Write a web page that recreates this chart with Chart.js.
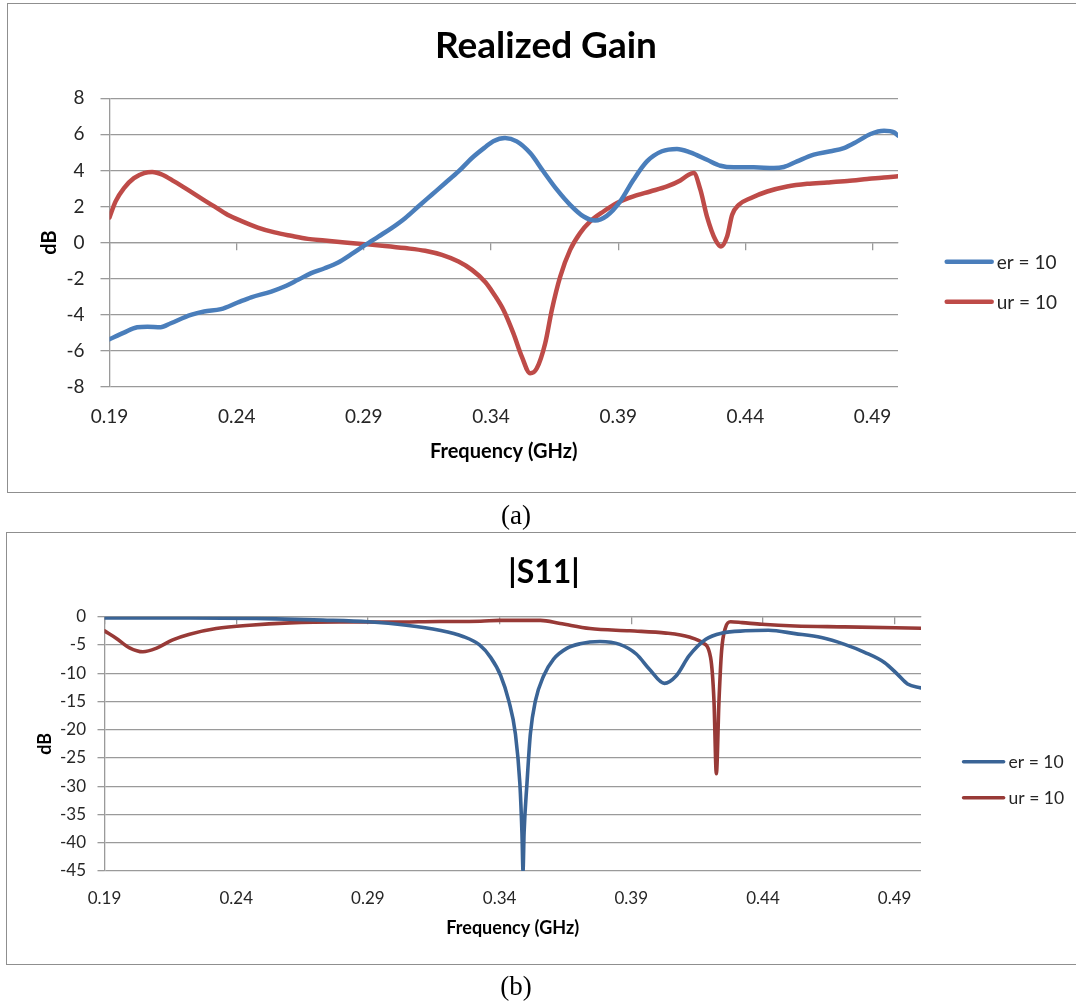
<!DOCTYPE html>
<html>
<head>
<meta charset="utf-8">
<title>Realized Gain and |S11|</title>
<script src="https://cdn.jsdelivr.net/npm/chart.js@4.4.1/dist/chart.umd.min.js"></script>
<style>
  html, body { margin: 0; padding: 0; background: #ffffff; }
  body { width: 1076px; height: 1003px; position: relative; overflow: hidden; }
  .frame { position: absolute; border: 1.5px solid #8f8f8f; box-sizing: border-box; }
  #frameA { left: 7px; top: 3px; width: 1080px; height: 490px; }
  #frameB { left: 6px; top: 532px; width: 1080px; height: 433px; }
  canvas { position: absolute; }
  #gainCanvas { left: 16px; top: 0px; }
  #s11Canvas { left: 12px; top: 520px; }
  .caption { position: absolute; width: 80px; text-align: center; line-height: 30px;
             font-family: "Liberation Serif", "Times New Roman", serif; font-size: 27px; color: #000; }
  #capA { left: 476px; top: 500px; }
  #capB { left: 476px; top: 971px; }
</style>
</head>
<body>
<div class="frame" id="frameA"></div>
<div class="frame" id="frameB"></div>
<canvas id="gainCanvas" width="1060" height="500"></canvas>
<canvas id="s11Canvas" width="1064" height="460"></canvas>
<div class="caption" id="capA">(a)</div>
<div class="caption" id="capB">(b)</div>

<script>
// ---- Realized gain (dB) versus frequency (GHz) ----
const gainFreqEr = [0.19, 0.1957, 0.2009, 0.2049, 0.2101, 0.2141, 0.222, 0.2272, 0.2338, 0.2404,
  0.2457, 0.2536, 0.2588, 0.2641, 0.2693, 0.2746, 0.2799, 0.2851, 0.2904, 0.2957,
  0.3009, 0.3062, 0.3114, 0.3167, 0.322, 0.3272, 0.3325, 0.3378, 0.3409, 0.3455,
  0.3501, 0.3554, 0.3606, 0.3659, 0.3711, 0.3764, 0.3809, 0.3855, 0.3908, 0.396,
  0.4013, 0.4072, 0.4131, 0.4183, 0.4249, 0.4302, 0.4354, 0.4433, 0.4512, 0.4551,
  0.4603, 0.4669, 0.4735, 0.4787, 0.484, 0.4892, 0.4945, 0.4984, 0.50];
const gainEr = [-5.37, -5.0, -4.70, -4.67, -4.70, -4.48, -4.02, -3.83, -3.70, -3.33,
  -3.04, -2.72, -2.44, -2.07, -1.70, -1.43, -1.11, -0.65, -0.15, 0.33,
  0.80, 1.35, 2.0, 2.65, 3.30, 3.94, 4.69, 5.30, 5.62, 5.80,
  5.61, 4.96, 3.94, 2.93, 2.09, 1.44, 1.22, 1.48, 2.28, 3.48,
  4.50, 5.06, 5.19, 5.0, 4.59, 4.26, 4.17, 4.17, 4.13, 4.19,
  4.5, 4.87, 5.06, 5.24, 5.61, 6.02, 6.20, 6.11, 5.93];

const gainFreqUr = [0.19, 0.1924, 0.1957, 0.1996, 0.2036, 0.2068, 0.2108, 0.2154, 0.2207, 0.2259,
  0.2312, 0.2364, 0.2417, 0.2483, 0.2549, 0.2614, 0.268, 0.2746, 0.2825, 0.2904,
  0.2983, 0.3062, 0.3141, 0.3207, 0.3272, 0.3325, 0.3378, 0.3409, 0.3449, 0.3488,
  0.3521, 0.3554, 0.358, 0.3613, 0.3639, 0.3672, 0.3711, 0.375, 0.379, 0.3842,
  0.3895, 0.396, 0.4026, 0.4092, 0.4144, 0.4177, 0.4197, 0.4223, 0.4249, 0.4282,
  0.4304, 0.4328, 0.4348, 0.4374, 0.442, 0.4486, 0.4564, 0.4643, 0.4722, 0.4801,
  0.4879, 0.4945, 0.50];
const gainUr = [1.39, 2.28, 3.02, 3.57, 3.85, 3.91, 3.76, 3.39, 2.93, 2.46,
  2.0, 1.54, 1.20, 0.83, 0.56, 0.37, 0.20, 0.11, 0.0, -0.09,
  -0.19, -0.31, -0.46, -0.69, -1.06, -1.52, -2.20, -2.81, -3.74, -5.04,
  -6.33, -7.26, -6.98, -5.59, -3.74, -1.89, -0.41, 0.52, 1.17, 1.72,
  2.19, 2.56, 2.83, 3.11, 3.44, 3.76, 3.85, 2.93, 1.44, 0.15,
  -0.22, 0.33, 1.54, 2.09, 2.46, 2.83, 3.11, 3.26, 3.33, 3.41,
  3.52, 3.61, 3.67];

// ---- |S11| (dB) versus frequency (GHz) ----
const s11FreqEr = [0.19, 0.2223, 0.2476, 0.2729, 0.29, 0.3046, 0.3172, 0.3261, 0.3324, 0.3366,
  0.3404, 0.3435, 0.346, 0.3477, 0.3485, 0.3489, 0.3493, 0.3504, 0.3517, 0.3536,
  0.3567, 0.3605, 0.3655, 0.3705, 0.3781, 0.3856, 0.3919, 0.3969, 0.4026, 0.407,
  0.412, 0.4183, 0.4245, 0.4333, 0.4421, 0.4522, 0.4622, 0.471, 0.4786, 0.4861,
  0.4911, 0.4949, 0.50];
const s11Er = [-0.2, -0.2, -0.3, -0.6, -0.9, -1.5, -2.4, -3.5, -5.0, -7.2,
  -10.4, -14.9, -20.7, -29.5, -38.3, -45, -38.3, -29.5, -20.7, -14.9,
  -10.5, -7.5, -5.6, -4.8, -4.4, -4.9, -6.6, -9.3, -11.8, -10.5,
  -6.9, -4.0, -2.9, -2.5, -2.4, -3.0, -3.7, -4.9, -6.3, -8.1,
  -10.2, -11.9, -12.6];

const s11FreqUr = [0.19, 0.1944, 0.1995, 0.2046, 0.2096, 0.2159, 0.2223, 0.2324, 0.2451, 0.2603,
  0.2792, 0.2982, 0.3172, 0.3328, 0.34, 0.3555, 0.363, 0.3743, 0.3894, 0.4032,
  0.412, 0.417, 0.4201, 0.4214, 0.4223, 0.4233, 0.4243, 0.4258, 0.4277, 0.4321,
  0.4396, 0.4522, 0.471, 0.50];
const s11Ur = [-2.5, -3.8, -5.5, -6.2, -5.6, -4.1, -3.1, -2.1, -1.5, -1.1,
  -0.95, -0.95, -0.85, -0.8, -0.65, -0.65, -1.2, -2.1, -2.5, -2.9,
  -3.6, -4.6, -7.2, -14.9, -27.8, -14.9, -6.0, -1.9, -0.9, -1.05,
  -1.35, -1.65, -1.8, -2.05];

const seriesNames = ['er = 10', 'ur = 10'];
const freqTicks = [0.19, 0.24, 0.29, 0.34, 0.39, 0.44, 0.49];
const freqRange = [0.19, 0.50];
const gainRange = [-8, 8];
const s11Range = [-45, 0];

const toPoints = (xs, ys) => xs.map((x, i) => ({ x: x, y: ys[i] }));

Chart.defaults.font.family = 'Lato, "Open Sans", sans-serif';
Chart.defaults.color = '#262626';

const GRID = '#9a9a9a';

// Legend drawn to the right of the plot: a short line sample and the series name.
const sideLegend = {
  id: 'sideLegend',
  afterDraw(chart, args, opts) {
    const ctx = chart.ctx;
    const area = chart.chartArea;
    ctx.save();
    chart.data.datasets.forEach((ds, i) => {
      const x0 = area.right + opts.dx;
      const y = area.top + opts.dy[i];
      ctx.strokeStyle = ds.borderColor;
      ctx.lineWidth = ds.borderWidth;
      ctx.lineCap = 'round';
      ctx.beginPath();
      ctx.moveTo(x0, y);
      ctx.lineTo(x0 + opts.len, y);
      ctx.stroke();
      ctx.fillStyle = '#262626';
      ctx.font = opts.font;
      ctx.textAlign = 'left';
      ctx.textBaseline = 'middle';
      ctx.fillText(ds.label, x0 + opts.len + opts.gap, y + 1);
    });
    ctx.restore();
  }
};

function buildChart(canvasId, cfg) {
  const ticksAt = (scale) => { scale.ticks = freqTicks.map(v => ({ value: v })); };
  return new Chart(document.getElementById(canvasId), {
    type: 'line',
    data: {
      datasets: cfg.series.map(s => ({
        label: s.label,
        data: s.points,
        borderColor: s.color,
        backgroundColor: s.color,
        borderWidth: cfg.lineWidth,
        pointRadius: 0,
        pointHoverRadius: 0,
        fill: false,
        cubicInterpolationMode: 'monotone',
        borderCapStyle: 'round',
        borderJoinStyle: 'round',
        xAxisID: 'x',
        yAxisID: 'y'
      }))
    },
    options: {
      responsive: false,
      devicePixelRatio: 1,
      animation: false,
      events: [],
      layout: { padding: 0 },
      plugins: {
        legend: { display: false },
        tooltip: { enabled: false },
        title: {
          display: true,
          text: cfg.title,
          color: '#000000',
          font: { size: cfg.titleSize, weight: 'bold', lineHeight: 1.2 },
          padding: { top: cfg.titlePadTop, bottom: cfg.titlePadBottom }
        },
        sideLegend: cfg.legend
      },
      scales: {
        x: {
          type: 'linear',
          axis: 'x',
          position: 'bottom',
          min: freqRange[0],
          max: freqRange[1],
          afterBuildTicks: ticksAt,
          afterFit: (s) => { s.height = cfg.xHeight; },
          grid: { display: false, drawTicks: false },
          border: { display: false },
          ticks: {
            autoSkip: false,
            maxRotation: 0,
            padding: cfg.xTickPad,
            font: { size: cfg.tickSize },
            callback: (v) => Number(v).toFixed(2)
          },
          title: {
            display: true,
            text: 'Frequency (GHz)',
            color: '#000000',
            font: { size: cfg.axisTitleSize, weight: 'bold', lineHeight: 1.2 },
            padding: { top: 0, bottom: cfg.xTitlePadBottom }
          }
        },
        xZero: {
          type: 'linear',
          axis: 'x',
          position: { y: 0 },
          min: freqRange[0],
          max: freqRange[1],
          afterBuildTicks: ticksAt,
          grid: { display: true, drawOnChartArea: false, drawTicks: true, tickLength: 7, color: GRID, lineWidth: 1.3 },
          border: { display: true, color: GRID, width: 1.3 },
          ticks: { display: false }
        },
        y: {
          type: 'linear',
          position: 'left',
          min: cfg.yRange[0],
          max: cfg.yRange[1],
          afterFit: (s) => { s.width = cfg.yWidth; },
          grid: { color: GRID, lineWidth: 1.3, drawTicks: true, tickLength: cfg.yTickLen },
          border: { display: true, color: GRID, width: 1.3 },
          ticks: { stepSize: cfg.yStep, padding: cfg.yTickPad, font: { size: cfg.tickSize } },
          title: {
            display: true,
            text: 'dB',
            color: '#000000',
            font: { size: cfg.axisTitleSize, weight: 'bold', lineHeight: 1.2 },
            padding: { top: cfg.yTitlePadTop, bottom: 0 }
          }
        },
        rightSpace: {
          type: 'linear',
          axis: 'y',
          position: 'right',
          display: true,
          afterFit: (s) => { s.width = cfg.rightWidth; },
          grid: { display: false, drawTicks: false },
          border: { display: false },
          ticks: { display: false }
        }
      }
    },
    plugins: [sideLegend]
  });
}

buildChart('gainCanvas', {
  title: 'Realized Gain',
  titleSize: 37, titlePadTop: 24.3, titlePadBottom: 29.6,
  lineWidth: 4.5,
  yRange: gainRange, yStep: 2,
  yWidth: 93.5, rightWidth: 178, xHeight: 113.3,
  tickSize: 19, xTickPad: 18.5, yTickPad: 16, yTickLen: 9,
  axisTitleSize: 20, xTitlePadBottom: 36.3, yTitlePadTop: 22,
  legend: { dx: 48.7, dy: [163.4, 203.4], len: 45, gap: 5, font: '19px Lato, "Open Sans", sans-serif' },
  series: [
    { label: seriesNames[0], points: toPoints(gainFreqEr, gainEr), color: '#4A7EBB' },
    { label: seriesNames[1], points: toPoints(gainFreqUr, gainUr), color: '#BE4B48' }
  ]
});

buildChart('s11Canvas', {
  title: '|S11|',
  titleSize: 32, titlePadTop: 33.8, titlePadBottom: 24.5,
  lineWidth: 3.6,
  yRange: s11Range, yStep: 5,
  yWidth: 92.5, rightWidth: 155, xHeight: 109,
  tickSize: 17, xTickPad: 17, yTickPad: 11.5, yTickLen: 7,
  axisTitleSize: 18, xTitlePadBottom: 40.9, yTitlePadTop: 22,
  legend: { dx: 42.6, dy: [145, 181], len: 40, gap: 5, font: '17.5px Lato, "Open Sans", sans-serif' },
  series: [
    { label: seriesNames[0], points: toPoints(s11FreqEr, s11Er), color: '#3A6496' },
    { label: seriesNames[1], points: toPoints(s11FreqUr, s11Ur), color: '#983A37' }
  ]
});
</script>
</body>
</html>
